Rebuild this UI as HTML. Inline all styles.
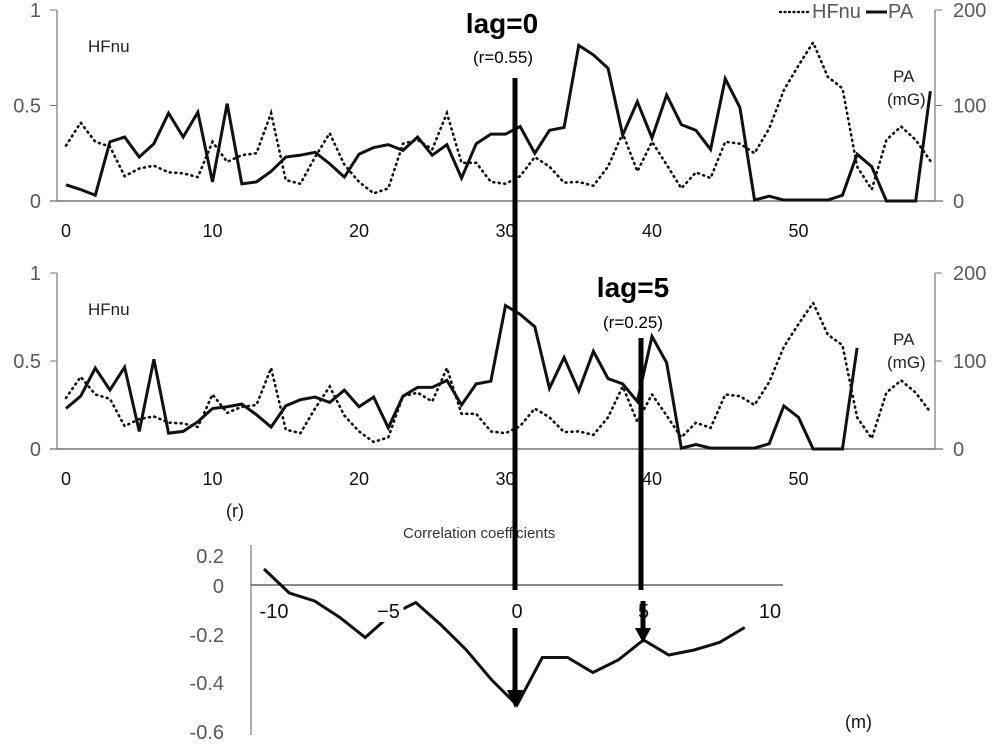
<!DOCTYPE html>
<html><head><meta charset="utf-8">
<style>
html,body{margin:0;padding:0;background:#fff;}
svg{display:block;font-family:"Liberation Sans",sans-serif;}
.tk{fill:#595959;font-size:20px;}
.lbl{fill:#222;font-size:17px;}
</style></head>
<body>
<svg id="chart" width="1000" height="745" viewBox="0 0 1000 745" xmlns="http://www.w3.org/2000/svg"></svg>
<script>
const hfnu = [0.29,0.41,0.31,0.285,0.13,0.17,0.185,0.15,0.145,0.125,0.31,0.205,0.24,0.25,0.46,0.11,0.09,0.23,0.355,0.19,0.10,0.04,0.066,0.30,0.32,0.27,0.46,0.20,0.20,0.10,0.09,0.13,0.23,0.18,0.096,0.10,0.08,0.18,0.355,0.155,0.31,0.19,0.066,0.15,0.12,0.31,0.30,0.25,0.38,0.58,0.71,0.83,0.65,0.59,0.18,0.06,0.32,0.39,0.32,0.21];
const pa = [17,12,6,62,67,46,60,92,67,93,20,102,18,20,31,46,48,51,39,25,49,56,59,53,67,48,59,24,60,70,70,78,50,74,77,163,153,139,69,104,66,111,80,74,54,128,98,1,5,1,1,1,1,6,49,36,0,0,0,115];
const lagShift = 5;
const xTicks = [0,10,20,30,40,50];
const leftTicks = [0,0.5,1];
const rightTicks = [0,100,200];
const lags = [-10,-9,-8,-7,-6,-5,-4,-3,-2,-1,0,1,2,3,4,5,6,7,8,9];
const corr = [0.064,-0.032,-0.064,-0.13,-0.21,-0.12,-0.07,-0.16,-0.26,-0.38,-0.48,-0.29,-0.29,-0.35,-0.30,-0.22,-0.28,-0.26,-0.23,-0.17];
const lagTicks = [-10,-5,0,5,10];

const NS="http://www.w3.org/2000/svg";
const svg=document.getElementById('chart');
function el(tag,attrs,parent){const e=document.createElementNS(NS,tag);for(const k in attrs)e.setAttribute(k,attrs[k]);(parent||svg).appendChild(e);return e;}
function txt(s,attrs,parent){const t=el('text',attrs,parent);t.textContent=s;return t;}
const xs=i=>66+14.65*i;

function panel(name,y0,y1,paSeries){
  const g=el('g',{});
  
  
  const yl=v=>y0+(y1-y0)*v;
  const yr=v=>y0+(y1-y0)*v/200;
  let a=el('line',{x1:57,y1:y1,x2:57,y2:y0,stroke:'#777','stroke-width':1.2},g);
  
  a=el('line',{x1:50,y1:y0,x2:943,y2:y0,stroke:'#555','stroke-width':1.3},g);
  
  a=el('line',{x1:935,y1:y1,x2:935,y2:y0,stroke:'#777','stroke-width':1.2},g);
  
  leftTicks.forEach(v=>{el('line',{x1:50,x2:57,y1:yl(v),y2:yl(v),stroke:'#777'},g);
    const t=txt(String(v),{x:41,y:yl(v)+7,'text-anchor':'end',class:'tk'},g);
    });
  rightTicks.forEach(v=>{el('line',{x1:935,x2:942,y1:yr(v),y2:yr(v),stroke:'#777'},g);
    const t=txt(String(v),{x:953,y:yr(v)+7,class:'tk'},g);
    });
  xTicks.forEach(v=>{const t=txt(String(v),{x:xs(v),y:y0+36,'text-anchor':'middle',fill:'#111','font-size':'18px'},g);
    });
  const hp=hfnu.map((v,i)=>xs(i)+','+yl(v)).join(' ');
  const h=el('polyline',{points:hp,fill:'none',stroke:'#111','stroke-width':2.6,'stroke-dasharray':'1 4.5','stroke-linecap':'round'},g);
  
  const pp=paSeries.map((v,i)=>xs(i)+','+yr(v)).join(' ');
  const p=el('polyline',{points:pp,fill:'none',stroke:'#111','stroke-width':3,'stroke-linejoin':'miter'},g);
  
  let t=txt('HFnu',{x:88,y:y1+42,class:'lbl','font-size':'18px'},g);
  
  t=txt('PA',{x:893,y:y1+72,class:'lbl'},g);
  
  t=txt('(mG)',{x:887,y:y1+95,class:'lbl'},g);
  
}
panel('top-panel',201,10,pa);
panel('lagged-panel',449,273,pa.slice(lagShift));

const lg=el('g',{});


el('line',{x1:780,x2:808,y1:12,y2:12,stroke:'#111','stroke-width':2.4,'stroke-dasharray':'1 3.5','stroke-linecap':'round'},lg);
let lt=txt('HFnu',{x:812,y:18,class:'tk','font-size':'18px'},lg);

el('line',{x1:866,x2:887,y1:12,y2:12,stroke:'#111','stroke-width':3},lg);
lt=txt('PA',{x:888,y:18,class:'tk','font-size':'18px'},lg);


const cg=el('g',{});


const cx=l=>517+25.3*l;
const cy=r=>585-250*r;
let ax=el('line',{x1:251,x2:251,y1:545,y2:735,stroke:'#777','stroke-width':1.2},cg);

ax=el('line',{x1:251,x2:783,y1:585,y2:585,stroke:'#444','stroke-width':1.2},cg);

const cl=el('polyline',{points:corr.map((v,i)=>cx(lags[i])+','+cy(v)).join(' '),fill:'none',stroke:'#111','stroke-width':3},cg);

[['0.2',563],['0',593],['-0.2',642],['-0.4',690],['-0.6',739]].forEach(([s,y])=>{
  const t=txt(s,{x:224,y:y,'text-anchor':'end',class:'tk','font-size':'20px'},cg);
  });
lagTicks.forEach(v=>{
  const s=v<0?'−'+(-v):String(v);
  const x=v===-10?cx(v)+10:(v===-5?cx(v)-2:cx(v));
  const bw=v<0?30:(v===10?26:14);
  if(v===-5){el('rect',{x:x-bw/2,y:598,width:bw,height:24,fill:'#fff'},cg);}
  const t=txt(v===-10?'-10':s,{x:x,y:618,'text-anchor':'middle',fill:'#111','font-size':'20px'},cg);
  });
let ct=txt('(r)',{x:226,y:517,fill:'#111','font-size':'18px'},cg);

ct=txt('(m)',{x:845,y:728,fill:'#111','font-size':'18px'},cg);

ct=txt('Correlation  coefficients',{x:403,y:538,fill:'#333','font-size':'15px'},cg);


const mg=el('g',{});


el('line',{x1:515,x2:515,y1:78,y2:590,stroke:'#000','stroke-width':5},mg);
el('line',{x1:515,x2:515,y1:628,y2:692,stroke:'#000','stroke-width':5},mg);
el('polygon',{points:'507,690 523,690 515,708',fill:'#000'},mg);
el('line',{x1:641,x2:641,y1:338,y2:590,stroke:'#000','stroke-width':5},mg);
el('line',{x1:643,x2:643,y1:601,y2:630,stroke:'#000','stroke-width':5},mg);
el('polygon',{points:'635,628 651,628 643,643',fill:'#000'},mg);
let mt=txt('lag=0',{x:502,y:33,'text-anchor':'middle',fill:'#000','font-size':'28px','font-weight':'bold','font-family':'Liberation Sans Narrow, Liberation Sans, sans-serif'},mg);

mt=txt('(r=0.55)',{x:503,y:63,'text-anchor':'middle',fill:'#000','font-size':'17px'},mg);

mt=txt('lag=5',{x:633,y:297,'text-anchor':'middle',fill:'#000','font-size':'28px','font-weight':'bold','font-family':'Liberation Sans Narrow, Liberation Sans, sans-serif'},mg);

mt=txt('(r=0.25)',{x:633,y:328,'text-anchor':'middle',fill:'#000','font-size':'17px'},mg);

</script>
</body></html>
